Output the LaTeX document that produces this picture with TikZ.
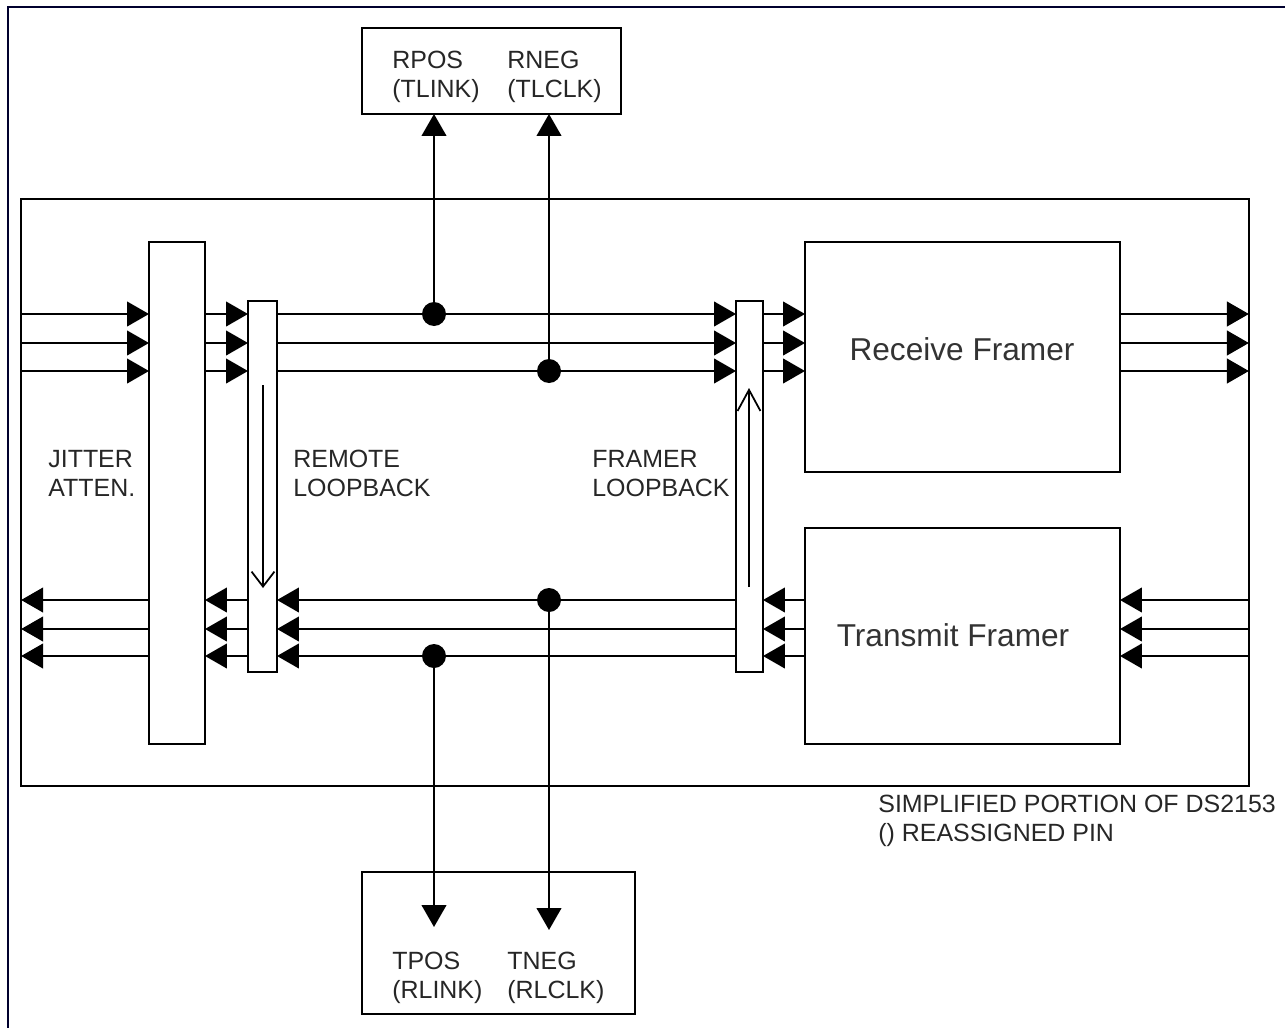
\documentclass[tikz,border=0pt]{standalone}
\usepackage{fontspec}
\setmainfont{Liberation Sans}
\usetikzlibrary{arrows.meta}

\tikzset{
  blockbox/.style={draw,line width=1.3pt,inner sep=0pt,outer sep=0pt},
  labeltext/.style={anchor=west,align=left,inner sep=0pt,text=black!85,font=\fontsize{14.2}{16.4}\selectfont},
  titletext/.style={inner sep=0pt,text=black!80,font=\fontsize{18}{21}\selectfont},
  sigline/.style={line width=1.3pt,-{Triangle[length=12.5pt,width=14pt]}},
  loopline/.style={line width=1pt,-{Straight Barb[length=8.5pt,width=13pt]}},
  longloopline/.style={line width=1pt,-{Straight Barb[length=12pt,width=13pt]}},
  dotnode/.style={circle,fill=black,inner sep=0pt,minimum size=0.48cm},
  frameline/.style={line width=1.6pt,color=black!60!blue!45!black}
}

\begin{document}
\begin{tikzpicture}[x=0.02cm,y=-0.02cm]
\useasboundingbox (0,0) rectangle (1285,1028);

% Outer frame, top and left only
\coordinate (framecorner) at (8,7);
\coordinate (frametop) at (1285,7);
\coordinate (frameleft) at (8,1028);
\draw[frameline] (frametop) -- (framecorner) -- (frameleft);

% Blocks
\node[blockbox,minimum width=24.56cm,minimum height=11.74cm] (main) at (635,492.5) {};
\node[blockbox,minimum width=5.18cm,minimum height=1.72cm] (topbox) at (491.5,71) {};
\node[blockbox,minimum width=5.46cm,minimum height=2.84cm] (botbox) at (498.5,943) {};
\node[blockbox,minimum width=1.12cm,minimum height=10.04cm] (jitter) at (177,493) {};
\node[blockbox,minimum width=0.58cm,minimum height=7.42cm] (remote) at (262.5,486.5) {};
\node[blockbox,minimum width=0.54cm,minimum height=7.42cm] (framer) at (749.5,486.5) {};
\node[blockbox,minimum width=6.30cm,minimum height=4.60cm] (receive) at (962.5,357) {};
\node[blockbox,minimum width=6.30cm,minimum height=4.32cm] (transmit) at (962.5,636) {};

% Signal rows
\foreach \yy in {314,343,371} {
  \draw[sigline] (main.west |- 0,\yy) -- (jitter.west |- 0,\yy);
  \draw[sigline] (jitter.east |- 0,\yy) -- (remote.west |- 0,\yy);
  \draw[sigline] (remote.east |- 0,\yy) -- (framer.west |- 0,\yy);
  \draw[sigline] (framer.east |- 0,\yy) -- (receive.west |- 0,\yy);
  \draw[sigline] (receive.east |- 0,\yy) -- (main.east |- 0,\yy);
}
\foreach \yy in {600,629,656} {
  \draw[sigline] (main.east |- 0,\yy) -- (transmit.east |- 0,\yy);
  \draw[sigline] (transmit.west |- 0,\yy) -- (framer.east |- 0,\yy);
  \draw[sigline] (framer.west |- 0,\yy) -- (remote.east |- 0,\yy);
  \draw[sigline] (remote.west |- 0,\yy) -- (jitter.east |- 0,\yy);
  \draw[sigline] (jitter.west |- 0,\yy) -- (main.west |- 0,\yy);
}

% Junctions and pins
\node[dotnode] (rposdot) at (434,314) {};
\node[dotnode] (rnegdot) at (549,371) {};
\node[dotnode] (tnegdot) at (549,600) {};
\node[dotnode] (tposdot) at (434,656) {};
\coordinate (tposend) at (434,927);
\coordinate (tnegend) at (549,930);

\draw[sigline] (rposdot) -- (topbox.south -| rposdot);
\draw[sigline] (rnegdot) -- (topbox.south -| rnegdot);
\draw[sigline] (tposdot) -- (tposend);
\draw[sigline] (tnegdot) -- (tnegend);

% Loopback arrows
\coordinate (remotestart) at (263,385);
\coordinate (remoteend) at (263,588);
\coordinate (framerstart) at (749,587);
\coordinate (framerend) at (749,388);
\draw[loopline] (remotestart) -- (remoteend);
\draw[longloopline] (framerstart) -- (framerend);

% Labels
\node[labeltext] (rposlabel) at (392,77) {RPOS\\(TLINK)};
\node[labeltext] (rneglabel) at (507,77) {RNEG\\(TLCLK)};
\node[labeltext] (tposlabel) at (392,977.5) {TPOS\\(RLINK)};
\node[labeltext] (tneglabel) at (507,977.5) {TNEG\\(RLCLK)};
\node[labeltext] (jitterlabel) at (48,473.5) {JITTER\\ATTEN.};
\node[labeltext] (remotelabel) at (293,473.5) {REMOTE\\LOOPBACK};
\node[labeltext] (framerlabel) at (592,473.5) {FRAMER\\LOOPBACK};
\node[labeltext] (notelabel) at (878,820.5) {SIMPLIFIED PORTION OF DS2153\\() REASSIGNED PIN};
\node[titletext] (receivelabel) at (962,349) {Receive Framer};
\node[titletext] (transmitlabel) at (953,635) {Transmit Framer};
\end{tikzpicture}
\end{document}
